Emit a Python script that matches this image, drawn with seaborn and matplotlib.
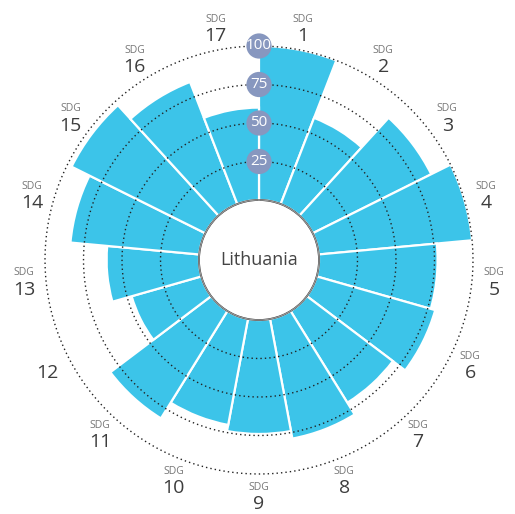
import numpy as np
import matplotlib
matplotlib.use("Agg")
import matplotlib.pyplot as plt
import seaborn as sns

# SDG index scores for Lithuania (0-100)
goals = [str(i) for i in range(1, 18)]
scores = [100, 60, 86, 100, 77, 80, 70, 79, 74, 70, 82, 47, 60, 84, 97, 85, 60]
# goal 12 is drawn without its "SDG" caption
captions = ["SDG"] * 11 + [""] + ["SDG"] * 5
ring_levels = [25, 50, 75, 100]
country = "Lithuania"

sns.set_theme(style="white")
plt.rcParams["font.family"] = ["Open Sans", "DejaVu Sans"]

bar_color = "#3cc4e9"
bubble_color = "#8797bf"

W, H = 515, 514
fig = plt.figure(figsize=(W / 100, H / 100), dpi=100)

# geometry (pixels): centre, inner hole radius, radius of the 100 ring
cx, cy = 259, H - 260
px_per = (214 - 60) / 100.0
r0 = 60 / px_per
rmax = 104
R = (rmax + r0) * px_per
ax = fig.add_axes([(cx - R) / W, (cy - R) / H, 2 * R / W, 2 * R / H], projection="polar")
ax.set_theta_zero_location("N")
ax.set_theta_direction(-1)
ax.set_ylim(0, rmax)
ax.set_rorigin(-r0)
ax.set_xticks([])
ax.set_yticks([])
ax.grid(False)
for sp in ax.spines.values():
    sp.set_visible(False)

n = len(goals)
width = 2 * np.pi / n
theta = np.arange(n) * width + width / 2

ax.bar(theta, scores, width=width, bottom=0, color=bar_color,
       edgecolor="white", linewidth=1.6, zorder=2)

# dotted reference rings
tt = np.linspace(0, 2 * np.pi, 720)
for lv in ring_levels:
    ax.plot(tt, np.full_like(tt, lv), color="#222222", lw=1.0,
            linestyle=(0, (1, 2.2)), zorder=3, clip_on=False)

# edge of the central hole
ax.plot(tt, np.zeros_like(tt), color="#9a9a9a", lw=0.9, zorder=4, clip_on=False)

# ring value bubbles
ax.scatter(np.zeros(len(ring_levels)), ring_levels, s=330, color=bubble_color,
           zorder=6, clip_on=False, edgecolors="none")
for lv in ring_levels:
    ax.text(0, lv, str(lv), color="white", fontsize=11, ha="center",
            va="center", zorder=7,
            family=["Liberation Sans Narrow", "Open Sans", "DejaVu Sans"])

# goal labels around the chart
r_lab = (236 - 60) / px_per
for th, g, cap in zip(theta, goals, captions):
    if cap:
        ax.annotate(cap, xy=(th, r_lab), xytext=(0, 9), textcoords="offset pixels",
                    ha="center", va="center", fontsize=7.5, color="#777777",
                    annotation_clip=False)
    ax.annotate(g, xy=(th, r_lab), xytext=(0, -8), textcoords="offset pixels",
                ha="center", va="center", fontsize=14, color="#3d3d3d",
                annotation_clip=False)

fig.text(cx / W, cy / H, country, ha="center", va="center", fontsize=13,
         color="#444444")

fig.savefig("out.png", dpi=100, facecolor="white")
